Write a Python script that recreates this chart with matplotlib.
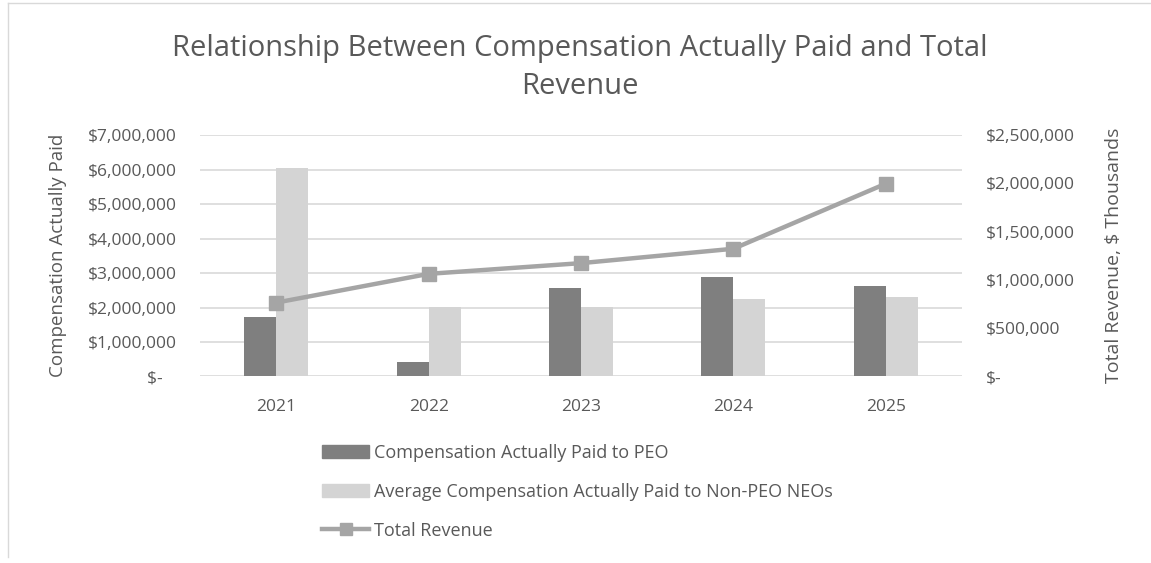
import matplotlib.pyplot as plt
import numpy as np
from matplotlib.ticker import FuncFormatter
from matplotlib.lines import Line2D
from matplotlib.patches import Patch

plt.rcParams['font.family'] = ['Open Sans', 'DejaVu Sans']

years = ['2021', '2022', '2023', '2024', '2025']
peo_cap = [1730000, 430000, 2570000, 2890000, 2630000]
neo_cap = [6060000, 2020000, 2020000, 2250000, 2310000]
revenue = [765000, 1063000, 1174000, 1323000, 1997000]

grey_txt = '#595959'
fig = plt.figure(figsize=(11.51, 5.63), dpi=100)
ax = fig.add_axes([0.1738, 0.3313, 0.662, 0.4287])

x = np.arange(len(years))
w = 0.21
ax.bar(x - w / 2, peo_cap, w, color='#7f7f7f', zorder=2)
ax.bar(x + w / 2, neo_cap, w, color='#d4d4d4', zorder=2)
ax.set_xlim(-0.5, 4.5)
ax.set_ylim(0, 7000000)
ax.set_yticks(np.arange(0, 7000001, 1000000))
ax.set_xticks(x)
ax.set_xticklabels(years)
ax.grid(axis='y', color='#d9d9d9', linewidth=1.2, zorder=0)
for s in ax.spines.values():
    s.set_visible(False)
ax.tick_params(length=0, labelsize=12.5, colors=grey_txt, pad=17)
ax.tick_params(axis='x', pad=16)


def money(v, pos):
    if v == 0:
        return '$-   '
    return '${:,.0f}'.format(v)


ax.yaxis.set_major_formatter(FuncFormatter(money))
ax.set_ylabel('Compensation Actually Paid', fontsize=13.5, color=grey_txt, labelpad=15)

ax2 = ax.twinx()
ax2.plot(x, revenue, color='#a5a5a5', linewidth=3.2, marker='s', markersize=10, zorder=3)
ax2.set_ylim(0, 2500000)
ax2.set_yticks(np.arange(0, 2500001, 500000))
ax2.yaxis.set_major_formatter(FuncFormatter(lambda v, p: '$-' if v == 0 else '${:,.0f}'.format(v)))
for s in ax2.spines.values():
    s.set_visible(False)
ax2.tick_params(length=0, labelsize=12.5, colors=grey_txt, pad=17)
ax2.set_ylabel('Total Revenue, $ Thousands', fontsize=14, color=grey_txt, labelpad=22)

fig.suptitle('Relationship Between Compensation Actually Paid and Total\nRevenue',
             x=0.504, y=0.94, fontsize=21, color=grey_txt, linespacing=1.4)

handles = [Patch(color='#7f7f7f'), Patch(color='#d4d4d4'),
           Line2D([], [], color='#a5a5a5', linewidth=3.2, marker='s', markersize=8)]
labels = ['Compensation Actually Paid to PEO',
          'Average Compensation Actually Paid to Non-PEO NEOs',
          'Total Revenue']
leg = fig.legend(handles, labels, loc='upper left', bbox_to_anchor=(0.266, 0.24),
                 frameon=False, fontsize=13, labelcolor=grey_txt,
                 handlelength=2.6, handleheight=0.7, labelspacing=1.15, handletextpad=0.25)

fig.add_artist(Line2D([0.007, 0.007], [0.01, 0.995], color='#d9d9d9', linewidth=1))
fig.add_artist(Line2D([0.007, 1.0], [0.995, 0.995], color='#d9d9d9', linewidth=1))

fig.savefig('out.png', dpi=100)
